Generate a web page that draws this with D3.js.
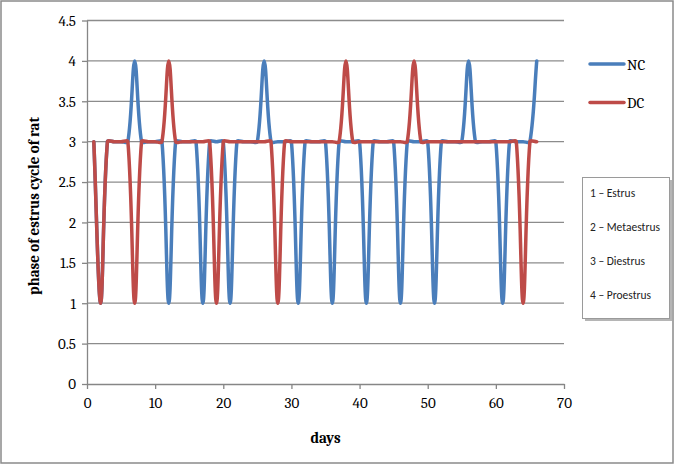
<!DOCTYPE html>
<html>
<head>
<meta charset="utf-8">
<script src="https://cdn.jsdelivr.net/npm/d3@7"></script>
<style>
  html, body { margin: 0; padding: 0; background: #fff; }
  svg text { font-family: Cambria, "Liberation Serif", "DejaVu Serif", serif; }
  .axis path, .axis line { stroke: #868686; stroke-width: 1.3; }
  .axis text { font-size: 15px; fill: #000; }
  .grid line { stroke: #8c8c8c; stroke-width: 1.3; }
  .note text { font-family: Calibri, "Liberation Sans Narrow", "Liberation Sans", sans-serif; font-size: 11.5px; fill: #222; }
</style>
</head>
<body>
<div id="chart"></div>
<script>
// phase of estrus cycle, one reading per day
const days = [1, 2, 3, 4, 5, 6, 7, 8, 9, 10, 11, 12, 13, 14, 15, 16, 17, 18, 19, 20, 21, 22,
              23, 24, 25, 26, 27, 28, 29, 30, 31, 32, 33, 34, 35, 36, 37, 38, 39, 40, 41, 42, 43, 44,
              45, 46, 47, 48, 49, 50, 51, 52, 53, 54, 55, 56, 57, 58, 59, 60, 61, 62, 63, 64, 65, 66];
const ncValues = [3, 1, 3, 3, 3, 3, 4, 3, 3, 3, 3, 1, 3, 3, 3, 3, 1, 3, 3, 3, 1, 3,
                  3, 3, 3, 4, 3, 3, 3, 3, 1, 3, 3, 3, 3, 1, 3, 3, 3, 3, 1, 3, 3, 3,
                  3, 1, 3, 3, 3, 3, 1, 3, 3, 3, 3, 4, 3, 3, 3, 3, 1, 3, 3, 3, 3, 4];
const dcValues = [3, 1, 3, 3, 3, 3, 1, 3, 3, 3, 3, 4, 3, 3, 3, 3, 3, 3, 1, 3, 3, 3,
                  3, 3, 3, 3, 3, 1, 3, 3, 3, 3, 3, 3, 3, 3, 3, 4, 3, 3, 3, 3, 3, 3,
                  3, 3, 3, 4, 3, 3, 3, 3, 3, 3, 3, 3, 3, 3, 3, 3, 3, 3, 3, 1, 3, 3];
const seriesNames = ['NC', 'DC'];
const seriesColors = ['#4a7ebb', '#be4b48'];
const xTicks = [0, 10, 20, 30, 40, 50, 60, 70];
const yTicks = [0, 0.5, 1, 1.5, 2, 2.5, 3, 3.5, 4, 4.5];
const phaseLabels = ['1 \u2013 Estrus', '2 \u2013 Metaestrus', '3 \u2013 Diestrus', '4 \u2013 Proestrus'];

const width = 677, height = 465,
      margin = {top: 20.5, right: 113, bottom: 81, left: 87};

const x = d3.scaleLinear()
    .domain([0, 70])
    .range([margin.left, width - margin.right]);

const y = d3.scaleLinear()
    .domain([0, 4.5])
    .range([height - margin.bottom, margin.top]);

const svg = d3.select('#chart').append('svg')
    .attr('width', width)
    .attr('height', height);

// outer chart frame
svg.append('rect')
   .attr('x', 1).attr('y', 1)
   .attr('width', 672).attr('height', 462)
   .attr('fill', '#fff')
   .attr('stroke', '#8a8a8a')
   .attr('stroke-width', 1.5);

// horizontal grid lines
svg.append('g')
   .attr('class', 'grid')
   .selectAll('line')
   .data(yTicks.filter(d => d > 0))
   .join('line')
     .attr('x1', x(0))
     .attr('x2', x(70))
     .attr('y1', d => y(d))
     .attr('y2', d => y(d));

// axes
svg.append('g')
   .attr('class', 'axis')
   .attr('transform', `translate(0,${y(0)})`)
   .call(d3.axisBottom(x).tickValues(xTicks).tickSize(5).tickPadding(5).tickSizeOuter(0))
   .call(g => g.selectAll('text').attr('dy', '0.95em'));

svg.append('g')
   .attr('class', 'axis')
   .attr('transform', `translate(${x(0)},0)`)
   .call(d3.axisLeft(y).tickValues(yTicks).tickFormat(d3.format('')).tickSize(5).tickPadding(6).tickSizeOuter(0));

// axis titles
svg.append('text')
   .attr('x', (x(0) + x(70)) / 2)
   .attr('y', 443)
   .attr('text-anchor', 'middle')
   .attr('font-size', 15)
   .attr('font-weight', 'bold')
   .text('days');

svg.append('text')
   .attr('transform', 'rotate(-90)')
   .attr('x', -206)
   .attr('y', 39)
   .attr('text-anchor', 'middle')
   .attr('font-size', 15)
   .attr('font-weight', 'bold')
   .text('phase of estrus cycle of rat');

// Excel-style smoothing: bezier arms along (next - prev), scaled by the
// share of the segment length so short flat runs barely overshoot
function smoothPath(pts) {
  const p = d3.path();
  const dist = (a, b) => Math.hypot(b[0] - a[0], b[1] - a[1]);
  p.moveTo(pts[0][0], pts[0][1]);
  for (let i = 0; i < pts.length - 1; i++) {
    const p0 = pts[Math.max(i - 1, 0)], p1 = pts[i], p2 = pts[i + 1],
          p3 = pts[Math.min(i + 2, pts.length - 1)];
    const d01 = dist(p0, p1), d12 = dist(p1, p2), d23 = dist(p2, p3);
    const f1 = d12 / (d01 + d12 || 1) / 3,
          f2 = d12 / (d12 + d23 || 1) / 3;
    p.bezierCurveTo(
      p1[0] + (p2[0] - p0[0]) * f1, p1[1] + (p2[1] - p0[1]) * f1,
      p2[0] - (p3[0] - p1[0]) * f2, p2[1] - (p3[1] - p1[1]) * f2,
      p2[0], p2[1]);
  }
  return p.toString();
}

[ncValues, dcValues].forEach((vals, i) => {
  svg.append('path')
     .datum(days.map((d, j) => [x(d), y(vals[j])]))
     .attr('fill', 'none')
     .attr('stroke', seriesColors[i])
     .attr('stroke-width', 3.5)
     .attr('stroke-linejoin', 'round')
     .attr('stroke-linecap', 'round')
     .attr('d', smoothPath);
});

// series legend
const legend = svg.append('g');
seriesNames.forEach((name, i) => {
  const ly = 64 + i * 38.5;
  legend.append('line')
     .attr('x1', 590).attr('x2', 624)
     .attr('y1', ly).attr('y2', ly)
     .attr('stroke', seriesColors[i])
     .attr('stroke-width', 3.5)
     .attr('stroke-linecap', 'round');
  legend.append('text')
     .attr('x', 627)
     .attr('y', ly + 5.5)
     .attr('font-size', 15)
     .text(name);
});

// phase key text box
const note = svg.append('g').attr('class', 'note');
note.append('rect')
   .attr('x', 585).attr('y', 180)
   .attr('width', 87).attr('height', 141)
   .attr('fill', '#b5b5b5');
note.append('rect')
   .attr('x', 582.5).attr('y', 177.5)
   .attr('width', 87).attr('height', 141)
   .attr('fill', '#fff')
   .attr('stroke', '#9a9a9a')
   .attr('stroke-width', 1);
note.selectAll('text.phase')
   .data(phaseLabels)
   .join('text')
     .attr('class', 'phase')
     .attr('x', 590)
     .attr('y', (d, i) => 197 + i * 34)
     .text(d => d);
</script>
</body>
</html>
